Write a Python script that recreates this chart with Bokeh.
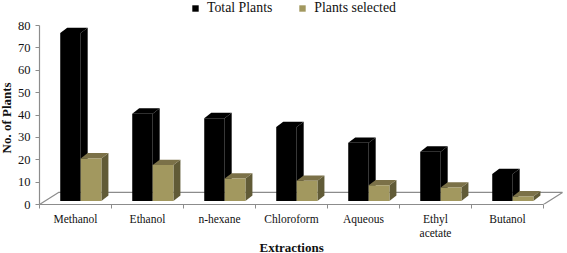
from bokeh.plotting import figure
from bokeh.models import Legend, LegendItem, FixedTicker, LinearAxis, Range1d, Title
from bokeh.embed import file_html
from bokeh.resources import INLINE

categories = ["Methanol", "Ethanol", "n-hexane", "Chloroform", "Aqueous", "Ethyl\nacetate", "Butanol"]
total_plants = [75, 39, 37, 33, 26, 22, 12]
plants_selected = [19, 16, 10, 9, 7, 6, 2]
y_ticks = [0, 10, 20, 30, 40, 50, 60, 70, 80]

SERIF = "Liberation Serif"
AXIS_GREY = "#8c8c8c"
GOLD = ("#a2985f", "#7b7148", "#615b37")
BLACK = ("#000000", "#000000", "#000000")

# pseudo-3D geometry in data units
DX, DY = 7 / 72, 2.4      # bar depth
FX, FY = 19 / 72, 5.4     # floor depth
BASE = 1.6                # bars stand slightly behind the front edge of the floor
BAR0, BAR1, BAR2 = 0.288, 0.572, 0.86
Y_TOP = 80 + 25 / 2.2375  # head-room above the axis, where the legend lies


def faces(values, lo, hi):
    front = ([], [])
    top = ([], [])
    side = ([], [])
    for i, v in enumerate(values):
        a, b = i + lo, i + hi
        t = v + BASE
        front[0].append([a, b, b, a])
        front[1].append([BASE, BASE, t, t])
        top[0].append([a, b, b + DX, a + DX])
        top[1].append([t, t, t + DY, t + DY])
        side[0].append([b, b + DX, b + DX, b])
        side[1].append([BASE, BASE + DY, t + DY, t])
    return front, top, side


p = figure(
    frame_width=527, frame_height=204, output_backend="svg", toolbar_location=None,
    x_range=Range1d(0, 527 / 72), y_range=Range1d(0, Y_TOP),
    min_border_left=40, min_border_right=0, min_border_top=0, min_border_bottom=49,
    x_axis_type=None, y_axis_type=None, outline_line_color=None,
    background_fill_color="white", border_fill_color="white",
)
p.grid.visible = False
p.styles = {"position": "relative", "left": "-4px"}

n = len(categories)
# floor outline
p.line([0, FX, n + FX, n], [0, FY, FY, 0], line_color=AXIS_GREY, line_width=1.2)

renderers = {}
for name, vals, lo, hi, cols in (
    ("Total Plants", total_plants, BAR0, BAR1, BLACK),
    ("Plants selected", plants_selected, BAR1, BAR2, GOLD),
):
    f, t, s = faces(vals, lo, hi)
    p.patches(s[0], s[1], fill_color=cols[2], line_color=None)
    p.patches(t[0], t[1], fill_color=cols[1], line_color=None)
    renderers[name] = p.patches(f[0], f[1], fill_color=cols[0], line_color=None)

xaxis = LinearAxis(
    ticker=FixedTicker(ticks=[i + 0.5 for i in range(n)], minor_ticks=list(range(n + 1))),
    bounds=(0, n),
    major_label_overrides={i + 0.5: c for i, c in enumerate(categories)},
    major_label_text_font=SERIF, major_label_text_font_size="11.5px",
    major_label_text_color="#111111", major_label_standoff=4,
    axis_line_color=AXIS_GREY, axis_line_width=1.2,
    major_tick_line_color=None, major_tick_in=0, major_tick_out=0,
    minor_tick_line_color=AXIS_GREY, minor_tick_in=0, minor_tick_out=4,
)
p.add_layout(xaxis, "below")

yaxis = LinearAxis(
    ticker=FixedTicker(ticks=y_ticks),
    bounds=(0, 80),
    major_label_text_font=SERIF, major_label_text_font_size="12.5px",
    major_label_text_color="#111111", major_label_standoff=5,
    axis_line_color=AXIS_GREY, axis_line_width=1.2,
    major_tick_line_color=AXIS_GREY, major_tick_in=0, major_tick_out=4,
    minor_tick_line_color=None,
)
p.add_layout(yaxis, "left")

p.add_layout(Title(text="Extractions", align="left", offset=220, standoff=-7,
                   text_font=SERIF, text_font_size="13px", text_font_style="bold",
                   text_color="#111111"), "below")
p.add_layout(Title(text="No. of Plants", align="left", offset=51, standoff=1,
                   text_font=SERIF, text_font_size="13px", text_font_style="bold",
                   text_color="#111111"), "left")

legend = Legend(
    items=[LegendItem(label=k, renderers=[v]) for k, v in renderers.items()],
    orientation="horizontal", location=(152, 188),
    background_fill_alpha=0, border_line_color=None,
    label_text_font=SERIF, label_text_font_size="13.8px", label_text_color="#111111",
    glyph_width=8, glyph_height=8, label_standoff=8, spacing=26,
    padding=0, margin=0,
)
p.add_layout(legend, "center")

open("out.html", "w").write(file_html(p, INLINE))
